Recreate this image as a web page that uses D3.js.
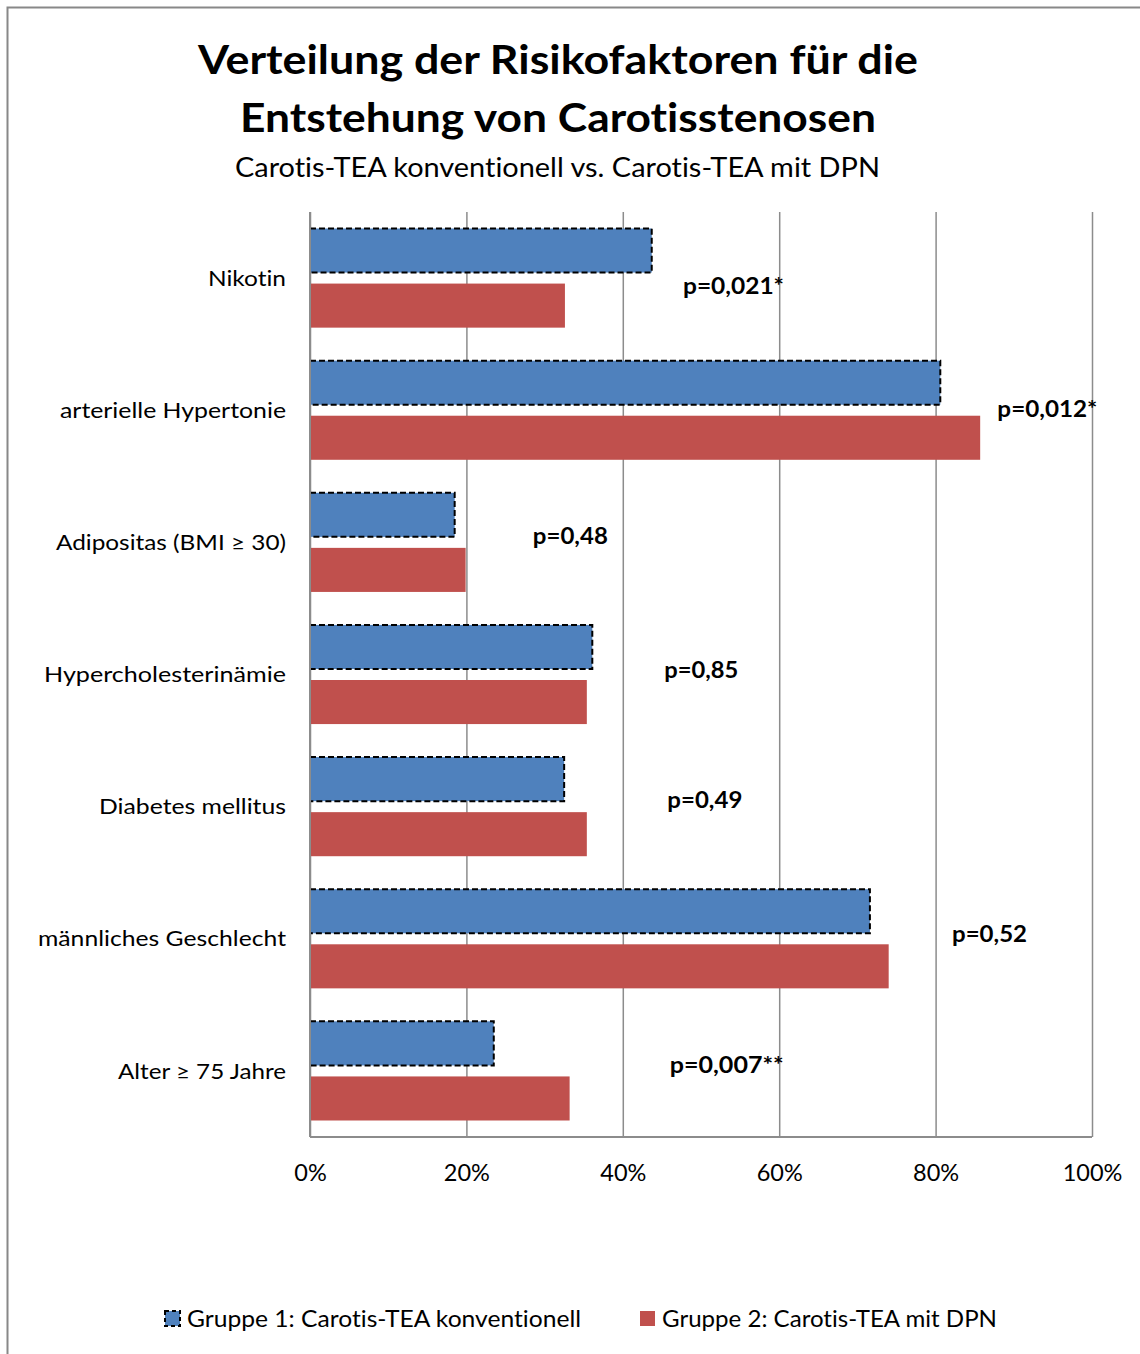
<!DOCTYPE html>
<html>
<head>
<meta charset="utf-8">
<script src="https://cdn.jsdelivr.net/npm/d3@7"></script>
<style>
  html, body { margin: 0; padding: 0; background: #fff; }
  svg { display: block; }
  text { font-family: Lato, "Open Sans", sans-serif; fill: #000; font-variant-ligatures: none; font-feature-settings: "liga" 0, "clig" 0; }
</style>
</head>
<body>
<svg id="chart" width="1140" height="1354"></svg>
<script>
// ---- data ----
const categories = ["Nikotin", "arterielle Hypertonie", "Adipositas (BMI \u2265 30)", "Hypercholesterinämie", "Diabetes mellitus", "männliches Geschlecht", "Alter \u2265 75 Jahre"];
const group1 = [43.7, 80.6, 18.5, 36.1, 32.5, 71.6, 23.5];   // Gruppe 1: konventionell (%)
const group2 = [32.6, 85.7, 19.9, 35.4, 35.4, 74.0, 33.2];   // Gruppe 2: mit DPN (%)
const pLabels = ["p=0,021*", "p=0,012*", "p=0,48", "p=0,85", "p=0,49", "p=0,52", "p=0,007**"];
const pLabelX = [47.7, 87.9, 28.5, 45.3, 45.7, 82.1, 46.0];  // annotation anchor (in %)
const pLabelDy = [8, -1, -6, -5, -7, -5, -6];
const xTicks = [0, 20, 40, 60, 80, 100];
const seriesNames = ["Gruppe 1: Carotis-TEA konventionell", "Gruppe 2: Carotis-TEA mit DPN"];
const titleLines = ["Verteilung der Risikofaktoren für die", "Entstehung von Carotisstenosen"];
const subtitle = "Carotis-TEA konventionell vs. Carotis-TEA mit DPN";

(function () {
const BLUE = "#4F81BD", RED = "#C0504D", GRID = "#8c8c8c";

const svg = d3.select("#chart");

function fit(sel, w) {
  sel.each(function () {
    const n = this.getComputedTextLength();
    if (Math.abs(n - w) > 1) {
      d3.select(this).attr("textLength", w).attr("lengthAdjust", "spacingAndGlyphs");
    }
  });
  return sel;
}

// outer frame (cut by image edge on right & bottom)
svg.append("path")
  .attr("d", "M7.5,1360 L7.5,7.5 L1150,7.5")
  .attr("fill", "none").attr("stroke", "#888").attr("stroke-width", 2);

// titles
const titleY = [74, 132];
titleLines.forEach((t, i) => {
  fit(svg.append("text").attr("x", 558).attr("y", titleY[i]).attr("text-anchor", "middle")
    .attr("font-size", 40).attr("font-weight", "bold").text(t), i === 0 ? 720 : 636);
});
fit(svg.append("text").attr("x", 557.5).attr("y", 177).attr("text-anchor", "middle")
  .attr("font-size", 27).text(subtitle), 645);

// scales
const mLeft = 310, mRight = 1092, mTop = 212, mBottom = 1137;
const x = d3.scaleLinear().domain([0, 100]).range([mLeft, mRight]);
const y = d3.scaleBand().domain(categories).range([mTop, mBottom]).padding(0);
const inner = d3.scaleBand().domain([0, 1]).range([16.5, y.bandwidth() - 16.5]).paddingInner(0.2);

// gridlines
svg.append("g").attr("transform", `translate(0,${mBottom})`)
  .call(d3.axisBottom(x).tickValues(xTicks).tickSize(-(mBottom - mTop)).tickFormat(""))
  .call(g => g.select(".domain").remove())
  .call(g => g.selectAll(".tick line").attr("stroke", GRID).attr("stroke-width", 1.5));

// bars
const rows = categories.map((c, i) => ({ c, v: [group1[i], group2[i]], i }));
const rowG = svg.append("g").selectAll("g").data(rows).join("g")
  .attr("transform", d => `translate(0,${y(d.c)})`);

rowG.append("rect")
  .attr("x", x(0)).attr("y", inner(1))
  .attr("width", d => x(d.v[1]) - x(0)).attr("height", inner.bandwidth())
  .attr("fill", RED);

rowG.append("rect")
  .attr("x", x(0)).attr("y", inner(0))
  .attr("width", d => x(d.v[0]) - x(0)).attr("height", inner.bandwidth())
  .attr("fill", BLUE).attr("stroke", "#000").attr("stroke-width", 2)
  .attr("stroke-dasharray", "6,3");

// axes lines
svg.append("line").attr("x1", x(0)).attr("x2", x(0)).attr("y1", mTop).attr("y2", mBottom)
  .attr("stroke", GRID).attr("stroke-width", 2);
svg.append("line").attr("x1", x(0)).attr("x2", x(100)).attr("y1", mBottom).attr("y2", mBottom)
  .attr("stroke", GRID).attr("stroke-width", 2);

// category labels
const catW = [78, 226, 230, 242, 187, 248, 168];
categories.forEach((c, i) => {
  fit(svg.append("text").attr("x", 286).attr("y", y(c) + y.bandwidth() / 2).attr("dy", "0.35em")
    .attr("text-anchor", "end").attr("font-size", 22).text(c), catW[i]);
});

// x tick labels
const xAxis = svg.append("g").attr("transform", `translate(0,${mBottom})`)
  .call(d3.axisBottom(x).tickValues(xTicks).tickSize(0).tickPadding(27).tickFormat(d => d + "%"));
xAxis.select(".domain").remove();
xAxis.selectAll("text").attr("font-size", 23.5).attr("font-family", "Lato, sans-serif").attr("fill", "#000");

// p-value labels
const pW = [101, 100, 75, 74, 75, 75, 114];
pLabels.forEach((p, i) => {
  fit(svg.append("text").attr("x", x(pLabelX[i]))
    .attr("y", y(categories[i]) + y.bandwidth() / 2 + pLabelDy[i]).attr("dy", "0.35em")
    .attr("font-size", 23).attr("font-weight", "bold").text(p), pW[i]);
});

// legend
const legend = [{ x: 165, tx: 187, w: 394, color: BLUE, dashed: true }, { x: 640, tx: 662, w: 335, color: RED, dashed: false }];
legend.forEach((l, i) => {
  const r = svg.append("rect").attr("x", l.x).attr("y", 1311).attr("width", 15).attr("height", 15).attr("fill", l.color);
  if (l.dashed) r.attr("stroke", "#000").attr("stroke-width", 2).attr("stroke-dasharray", "4,3");
  fit(svg.append("text").attr("x", l.tx).attr("y", 1318.5).attr("dy", "0.35em").attr("font-size", 23).text(seriesNames[i]), l.w);
});
})();
</script>
</body>
</html>
